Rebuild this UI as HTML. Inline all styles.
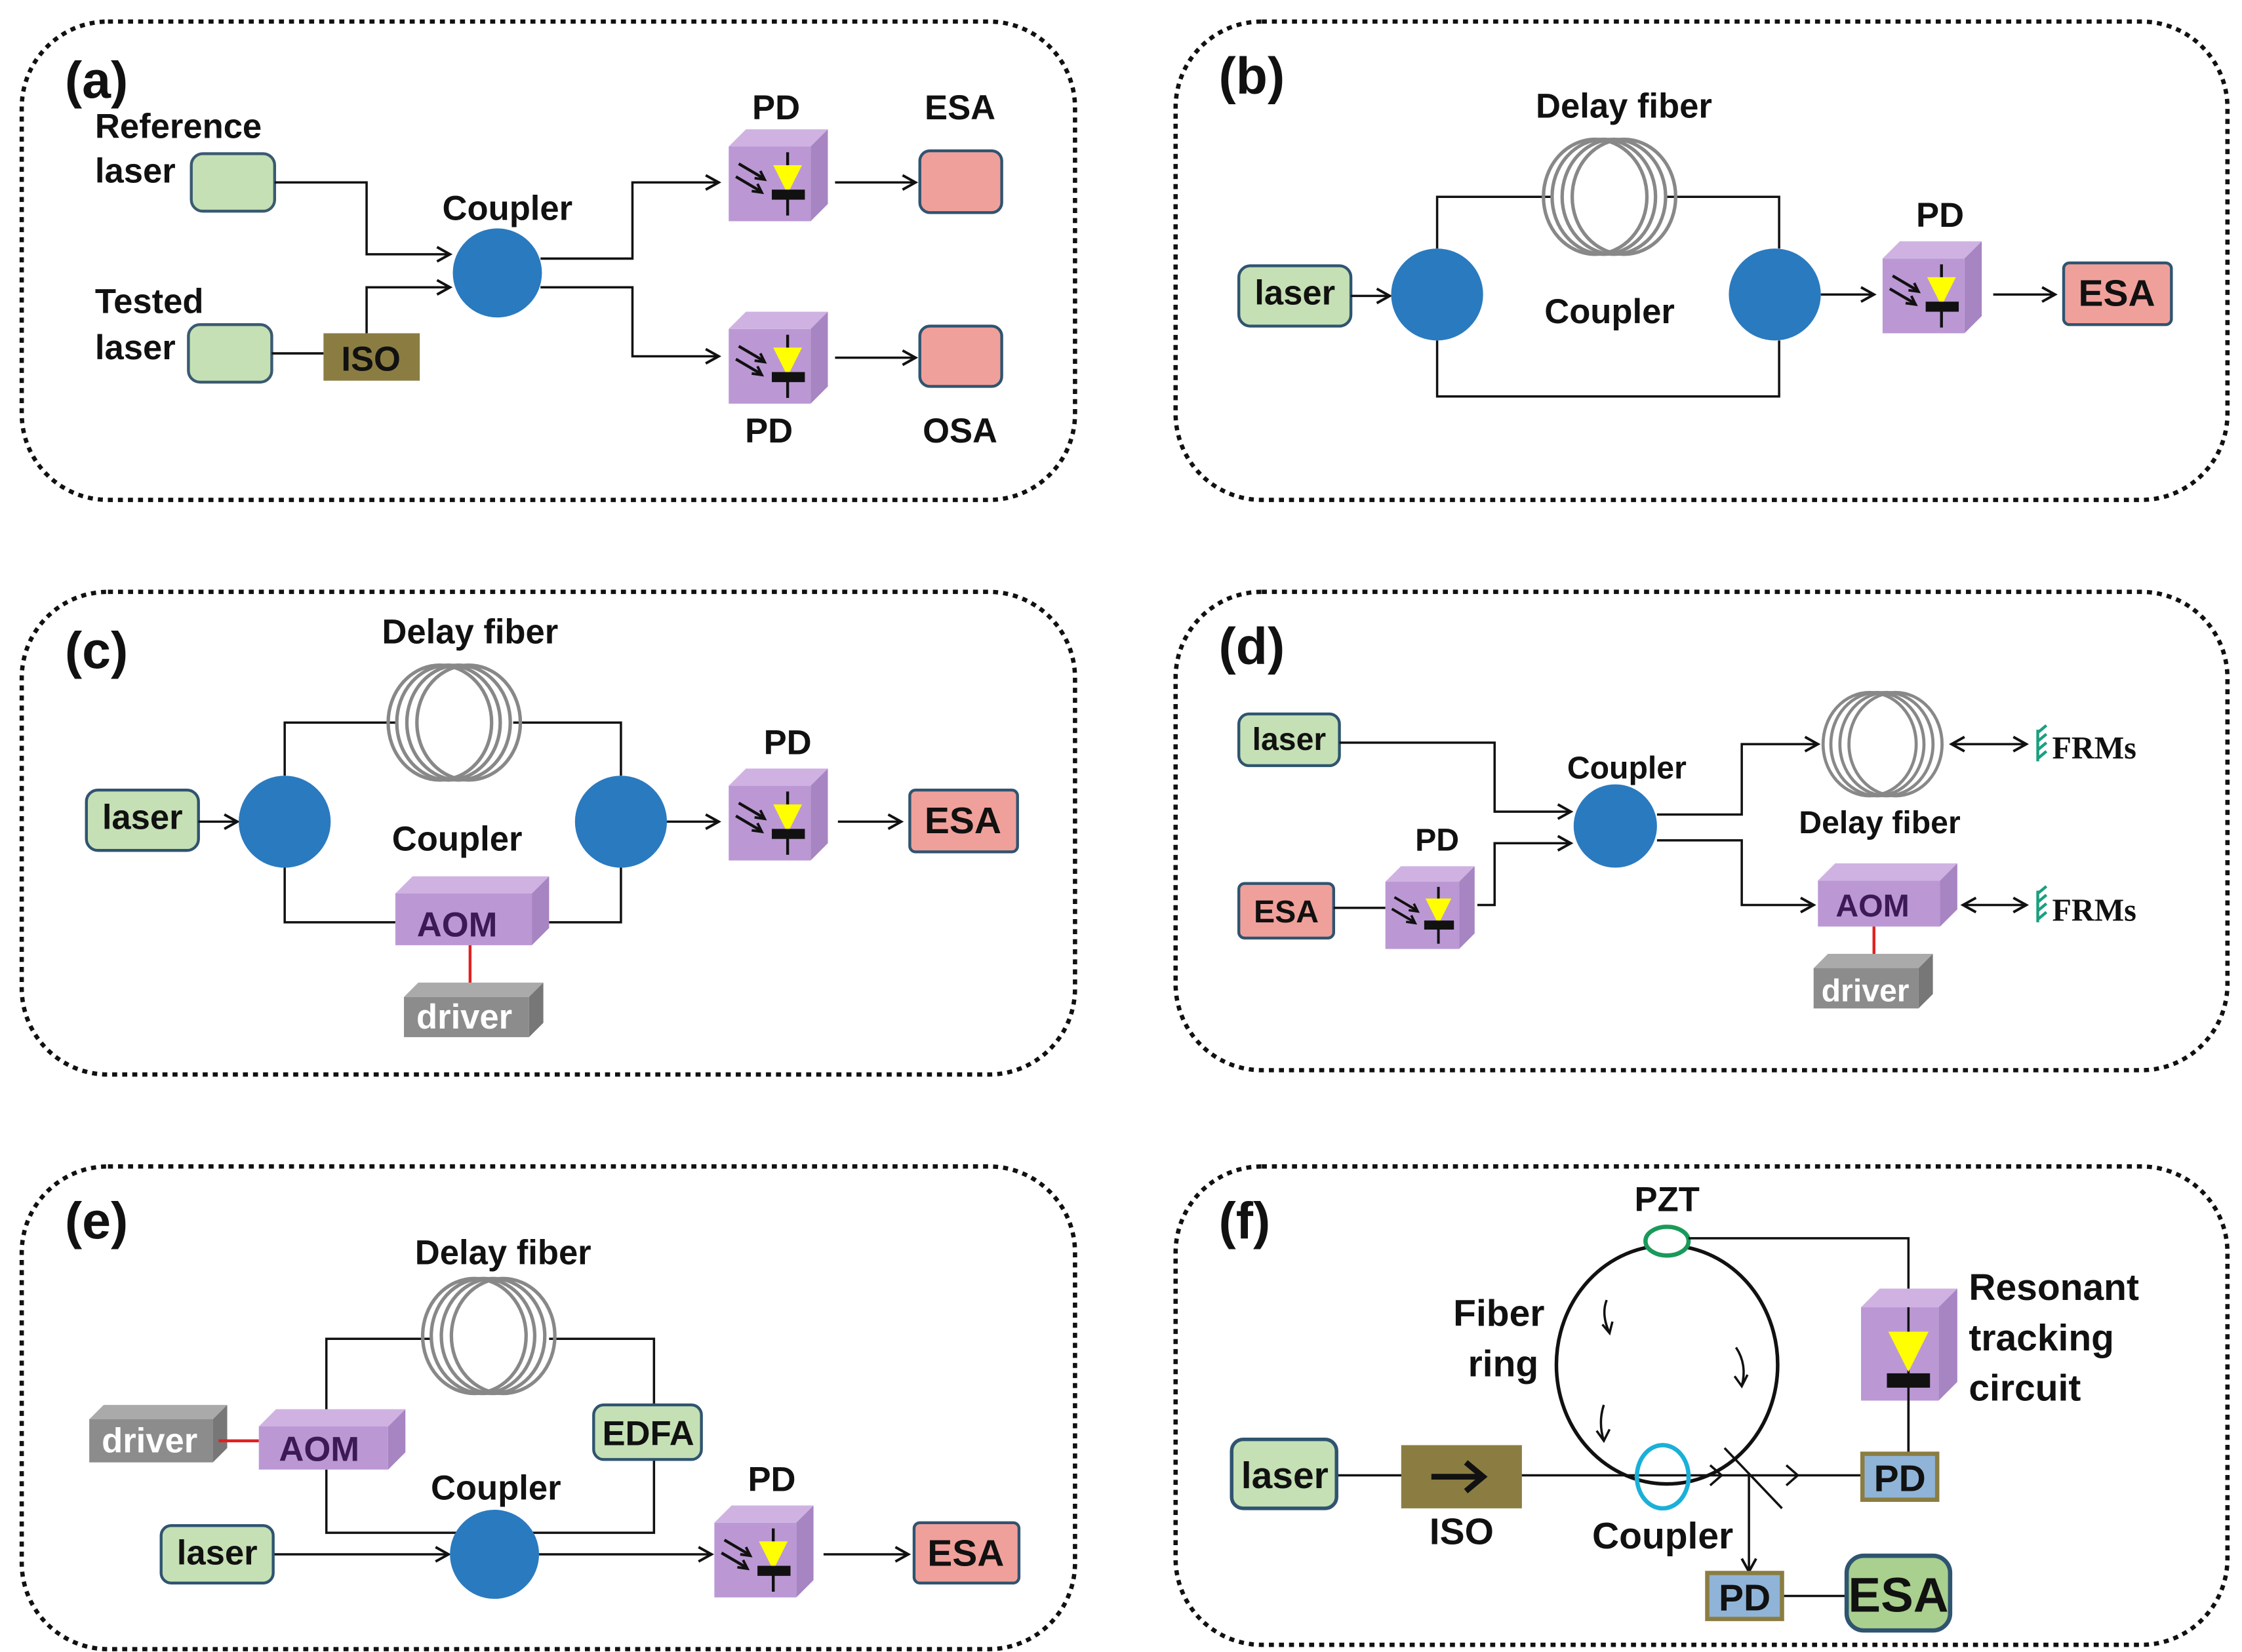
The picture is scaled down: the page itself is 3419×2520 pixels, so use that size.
<!DOCTYPE html>
<html><head><meta charset="utf-8"><style>
html,body{margin:0;padding:0;background:#fff;}
svg{display:block;}
text{font-family:"Liberation Sans",Arial,sans-serif;font-weight:bold;fill:#111;}
</style></head><body>
<svg width="3419" height="2520" viewBox="0 0 1560 1150" xmlns="http://www.w3.org/2000/svg">
<defs>
<marker id="ar" markerWidth="12" markerHeight="12" refX="10" refY="6" orient="auto" markerUnits="userSpaceOnUse">
<path d="M1,1 L10,6 L1,11" fill="none" stroke="#111" stroke-width="1.8"/></marker>
<marker id="ars" markerWidth="12" markerHeight="12" refX="2" refY="6" orient="auto" markerUnits="userSpaceOnUse">
<path d="M11,1 L2,6 L11,11" fill="none" stroke="#111" stroke-width="1.8"/></marker>
<g id="pd">
<polygon points="0,12 12,0 69,0 57,12" fill="#cfb2e2"/>
<polygon points="57,12 69,0 69,52 57,64" fill="#a784c2"/>
<rect x="0" y="12" width="57" height="52" fill="#bb98d4"/>
<line x1="41" y1="16" x2="41" y2="60" stroke="#111" stroke-width="2"/>
<polygon points="31,25 51,25 41,45" fill="#ffff00"/>
<rect x="30" y="42" width="23" height="7" fill="#111"/>
<line x1="7" y1="24" x2="24" y2="34" stroke="#111" stroke-width="2"/>
<path d="M18,34 L25,35 L22,29" fill="none" stroke="#111" stroke-width="1.8"/>
<line x1="5" y1="33" x2="22" y2="43" stroke="#111" stroke-width="2"/>
<path d="M16,43 L23,44 L20,38" fill="none" stroke="#111" stroke-width="1.8"/>
</g>
<g id="coil" fill="none" stroke="#888" stroke-width="2.4">
<ellipse cx="-10" cy="0" rx="36" ry="40"/><ellipse cx="-4" cy="0" rx="36" ry="40"/>
<ellipse cx="3" cy="0" rx="36" ry="40"/><ellipse cx="10" cy="0" rx="36" ry="40"/>
</g>
</defs>

<g fill="none" stroke="#111" stroke-width="3" stroke-dasharray="3.5 3.5">
<rect x="15" y="15" width="733" height="333" rx="60"/>
<rect x="818" y="15" width="732" height="333" rx="60"/>
<rect x="15" y="412" width="733" height="336" rx="60"/>
<rect x="818" y="412" width="732" height="333" rx="60"/>
<rect x="15" y="812" width="733" height="336" rx="60"/>
<rect x="818" y="812" width="732" height="333" rx="60"/>
</g>

<!-- (a) -->
<text x="45" y="68" font-size="36">(a)</text>
<text x="66" y="96" font-size="24">Reference</text>
<text x="66" y="127" font-size="24">laser</text>
<rect x="133" y="107" width="58" height="40" rx="8" fill="#c5e0b4" stroke="#3a5a70" stroke-width="2"/>
<text x="66" y="218" font-size="24">Tested</text>
<text x="66" y="250" font-size="24">laser</text>
<rect x="131" y="226" width="58" height="40" rx="8" fill="#c5e0b4" stroke="#3a5a70" stroke-width="2"/>
<rect x="225" y="232" width="67" height="33" fill="#8b7d42"/>
<text x="258" y="258" font-size="24" text-anchor="middle">ISO</text>
<g fill="none" stroke="#111" stroke-width="1.6">
<polyline points="191,127 255,127 255,177 313,177" marker-end="url(#ar)"/>
<line x1="189" y1="246" x2="225" y2="246"/>
<polyline points="255,232 255,200 313,200" marker-end="url(#ar)"/>
<polyline points="376,180 440,180 440,127 500,127" marker-end="url(#ar)"/>
<polyline points="376,200 440,200 440,248 500,248" marker-end="url(#ar)"/>
<line x1="581" y1="127" x2="637" y2="127" marker-end="url(#ar)"/>
<line x1="581" y1="249" x2="637" y2="249" marker-end="url(#ar)"/>
</g>
<circle cx="346" cy="190" r="31" fill="#2a7abf"/>
<text x="353" y="153" font-size="24" text-anchor="middle">Coupler</text>
<use href="#pd" x="507" y="90"/>
<use href="#pd" x="507" y="217"/>
<text x="540" y="83" font-size="24" text-anchor="middle">PD</text>
<text x="535" y="308" font-size="24" text-anchor="middle">PD</text>
<rect x="640" y="105" width="57" height="43" rx="7" fill="#f0a09a" stroke="#2f5470" stroke-width="2"/>
<rect x="640" y="227" width="57" height="42" rx="7" fill="#f0a09a" stroke="#2f5470" stroke-width="2"/>
<text x="668" y="83" font-size="24" text-anchor="middle">ESA</text>
<text x="668" y="308" font-size="24" text-anchor="middle">OSA</text>

<!-- (b) -->
<text x="848" y="65" font-size="36">(b)</text>
<text x="1130" y="82" font-size="24" text-anchor="middle">Delay fiber</text>
<rect x="862" y="185" width="78" height="42" rx="8" fill="#c5e0b4" stroke="#2f5470" stroke-width="2"/>
<text x="901" y="212" font-size="24" text-anchor="middle">laser</text>
<g fill="none" stroke="#111" stroke-width="1.6">
<line x1="940" y1="206" x2="967" y2="206" marker-end="url(#ar)"/>
<polyline points="1000,173 1000,137 1080,137"/>
<polyline points="1160,137 1238,137 1238,173"/>
<polyline points="1000,237 1000,276 1238,276 1238,237"/>
<line x1="1267" y1="205" x2="1304" y2="205" marker-end="url(#ar)"/>
<line x1="1387" y1="205" x2="1430" y2="205" marker-end="url(#ar)"/>
</g>
<use href="#coil" x="1120" y="137"/>
<circle cx="1000" cy="205" r="32" fill="#2a7abf"/>
<circle cx="1235" cy="205" r="32" fill="#2a7abf"/>
<text x="1120" y="225" font-size="24" text-anchor="middle">Coupler</text>
<use href="#pd" x="1310" y="168"/>
<text x="1350" y="158" font-size="24" text-anchor="middle">PD</text>
<rect x="1436" y="183" width="75" height="43" rx="4" fill="#f0a09a" stroke="#2f5470" stroke-width="2"/>
<text x="1473" y="213" font-size="26" text-anchor="middle">ESA</text>

<!-- (c) -->
<text x="45" y="465" font-size="36">(c)</text>
<text x="327" y="448" font-size="24" text-anchor="middle">Delay fiber</text>
<rect x="60" y="550" width="78" height="42" rx="8" fill="#c5e0b4" stroke="#2f5470" stroke-width="2"/>
<text x="99" y="577" font-size="24" text-anchor="middle">laser</text>
<g fill="none" stroke="#111" stroke-width="1.6">
<line x1="138" y1="572" x2="165" y2="572" marker-end="url(#ar)"/>
<polyline points="198,540 198,503 275,503"/>
<polyline points="357,503 432,503 432,540"/>
<polyline points="198,604 198,642 275,642"/>
<polyline points="382,642 432,642 432,604"/>
<line x1="463" y1="572" x2="500" y2="572" marker-end="url(#ar)"/>
<line x1="583" y1="572" x2="627" y2="572" marker-end="url(#ar)"/>
</g>
<use href="#coil" x="316" y="503"/>
<circle cx="198" cy="572" r="32" fill="#2a7abf"/>
<circle cx="432" cy="572" r="32" fill="#2a7abf"/>
<text x="318" y="592" font-size="24" text-anchor="middle">Coupler</text>
<polygon points="275,622 287,610 382,610 370,622" fill="#cfb2e2"/>
<polygon points="370,622 382,610 382,646 370,658" fill="#a784c2"/>
<rect x="275" y="622" width="95" height="36" fill="#bb98d4"/>
<text x="318" y="652" font-size="24" text-anchor="middle" style="fill:#3c1a55">AOM</text>
<line x1="327" y1="658" x2="327" y2="690" stroke="#e02020" stroke-width="2"/>
<polygon points="281,694 291,684 378,684 368,694" fill="#aaa"/>
<polygon points="368,694 378,684 378,712 368,722" fill="#777"/>
<rect x="281" y="694" width="87" height="28" fill="#8c8c8c"/>
<text x="323" y="716" font-size="24" text-anchor="middle" style="fill:#fff">driver</text>
<use href="#pd" x="507" y="535"/>
<text x="548" y="525" font-size="24" text-anchor="middle">PD</text>
<rect x="633" y="550" width="75" height="43" rx="4" fill="#f0a09a" stroke="#2f5470" stroke-width="2"/>
<text x="670" y="580" font-size="26" text-anchor="middle">ESA</text>

<!-- (d) -->
<text x="848" y="462" font-size="36">(d)</text>
<rect x="862" y="497" width="70" height="36" rx="7" fill="#c5e0b4" stroke="#2f5470" stroke-width="2"/>
<text x="897" y="522" font-size="22" text-anchor="middle">laser</text>
<rect x="862" y="615" width="66" height="38" rx="4" fill="#f0a09a" stroke="#2f5470" stroke-width="2"/>
<text x="895" y="642" font-size="22" text-anchor="middle">ESA</text>
<g fill="none" stroke="#111" stroke-width="1.6">
<polyline points="932,517 1040,517 1040,565 1093,565" marker-end="url(#ar)"/>
<line x1="928" y1="632" x2="964" y2="632"/>
<polyline points="1028,630 1040,630 1040,587 1093,587" marker-end="url(#ar)"/>
<polyline points="1153,567 1212,567 1212,518 1265,518" marker-end="url(#ar)"/>
<polyline points="1153,585 1212,585 1212,630 1262,630" marker-end="url(#ar)"/>
<line x1="1358" y1="518" x2="1410" y2="518" marker-start="url(#ars)" marker-end="url(#ar)"/>
</g>
<g transform="translate(964,603) scale(0.9)"><use href="#pd"/></g>
<text x="1000" y="592" font-size="22" text-anchor="middle">PD</text>
<circle cx="1124" cy="575" r="29" fill="#2a7abf"/>
<text x="1132" y="542" font-size="22" text-anchor="middle">Coupler</text>
<g transform="translate(1310,518) scale(0.9)"><use href="#coil"/></g>
<text x="1308" y="580" font-size="22" text-anchor="middle">Delay fiber</text>
<g stroke="#1aa080" stroke-width="2"><line x1="1418" y1="508" x2="1418" y2="530"/><line x1="1418" y1="510" x2="1424" y2="505"/><line x1="1418" y1="516" x2="1424" y2="511"/><line x1="1418" y1="522" x2="1424" y2="517"/><line x1="1418" y1="528" x2="1424" y2="523"/>
<line x1="1418" y1="620" x2="1418" y2="642"/><line x1="1418" y1="622" x2="1424" y2="617"/><line x1="1418" y1="628" x2="1424" y2="623"/><line x1="1418" y1="634" x2="1424" y2="629"/><line x1="1418" y1="640" x2="1424" y2="635"/></g>
<text x="1428" y="528" font-size="22" style="font-family:'Liberation Serif',serif">FRMs</text>
<text x="1428" y="641" font-size="22" style="font-family:'Liberation Serif',serif">FRMs</text>
<polygon points="1265,613 1277,601 1362,601 1350,613" fill="#cfb2e2"/>
<polygon points="1350,613 1362,601 1362,633 1350,645" fill="#a784c2"/>
<rect x="1265" y="613" width="85" height="32" fill="#bb98d4"/>
<text x="1303" y="638" font-size="22" text-anchor="middle" style="fill:#3c1a55">AOM</text>
<line x1="1366" y1="630" x2="1410" y2="630" stroke="#111" stroke-width="1.6" marker-start="url(#ars)" marker-end="url(#ar)"/>
<line x1="1304" y1="645" x2="1304" y2="672" stroke="#e02020" stroke-width="2"/>
<polygon points="1262,674 1272,664 1345,664 1335,674" fill="#aaa"/>
<polygon points="1335,674 1345,664 1345,692 1335,702" fill="#777"/>
<rect x="1262" y="674" width="73" height="28" fill="#8c8c8c"/>
<text x="1298" y="697" font-size="22" text-anchor="middle" style="fill:#fff">driver</text>

<!-- (e) -->
<text x="45" y="862" font-size="36">(e)</text>
<text x="350" y="880" font-size="24" text-anchor="middle">Delay fiber</text>
<g fill="none" stroke="#111" stroke-width="1.6">
<polyline points="227,990 227,932 300,932"/>
<polyline points="382,932 455,932 455,978"/>
<polyline points="227,1023 227,1067 318,1067"/>
<polyline points="455,1016 455,1067 370,1067"/>
<line x1="190" y1="1082" x2="312" y2="1082" marker-end="url(#ar)"/>
<line x1="375" y1="1082" x2="495" y2="1082" marker-end="url(#ar)"/>
<line x1="573" y1="1082" x2="632" y2="1082" marker-end="url(#ar)"/>
</g>
<use href="#coil" x="340" y="930"/>
<rect x="413" y="978" width="75" height="38" rx="7" fill="#c5e0b4" stroke="#2f5470" stroke-width="2"/>
<text x="451" y="1006" font-size="24" text-anchor="middle">EDFA</text>
<polygon points="62,988 72,978 158,978 148,988" fill="#aaa"/>
<polygon points="148,988 158,978 158,1008 148,1018" fill="#777"/>
<rect x="62" y="988" width="86" height="30" fill="#8c8c8c"/>
<text x="104" y="1011" font-size="24" text-anchor="middle" style="fill:#fff">driver</text>
<line x1="152" y1="1003" x2="180" y2="1003" stroke="#e02020" stroke-width="2"/>
<polygon points="180,993 192,981 282,981 270,993" fill="#cfb2e2"/>
<polygon points="270,993 282,981 282,1011 270,1023" fill="#a784c2"/>
<rect x="180" y="993" width="90" height="30" fill="#bb98d4"/>
<text x="222" y="1017" font-size="24" text-anchor="middle" style="fill:#3c1a55">AOM</text>
<rect x="112" y="1062" width="78" height="40" rx="7" fill="#c5e0b4" stroke="#2f5470" stroke-width="2"/>
<text x="151" y="1089" font-size="24" text-anchor="middle">laser</text>
<circle cx="344" cy="1082" r="31" fill="#2a7abf"/>
<text x="345" y="1044" font-size="24" text-anchor="middle">Coupler</text>
<use href="#pd" x="497" y="1048"/>
<text x="537" y="1038" font-size="24" text-anchor="middle">PD</text>
<rect x="636" y="1060" width="73" height="42" rx="4" fill="#f0a09a" stroke="#2f5470" stroke-width="2"/>
<text x="672" y="1090" font-size="26" text-anchor="middle">ESA</text>

<!-- (f) -->
<text x="848" y="862" font-size="36">(f)</text>
<text x="1160" y="843" font-size="24" text-anchor="middle">PZT</text>
<ellipse cx="1160" cy="950" rx="77" ry="83" fill="none" stroke="#111" stroke-width="2.5"/>
<ellipse cx="1160" cy="864" rx="15" ry="10" fill="#fff" stroke="#1a9a5a" stroke-width="3"/>
<g fill="none" stroke="#111" stroke-width="1.6">
<polyline points="1175,862 1328,862 1328,1012"/>
<path d="M1118,905 Q1114,915 1120,928 M1115,922 L1120,928 L1122,920"/>
<path d="M1208,938 Q1216,950 1212,965 M1207,958 L1212,965 L1216,957"/>
<path d="M1116,978 Q1112,990 1116,1003 M1111,996 L1116,1003 L1120,995"/>
<line x1="930" y1="1027" x2="1296" y2="1027"/>
<path d="M1190,1020 L1198,1027 L1190,1034 M1243,1020 L1251,1027 L1243,1034"/>
<line x1="1200" y1="1008" x2="1240" y2="1050"/>
<line x1="1217" y1="1027" x2="1217" y2="1094" marker-end="url(#ar)"/>
<line x1="1240" y1="1111" x2="1285" y2="1111"/>
</g>
<polygon points="1295,910 1308,897 1362,897 1349,910" fill="#cfb2e2"/>
<polygon points="1349,910 1362,897 1362,962 1349,975" fill="#a784c2"/>
<rect x="1295" y="910" width="54" height="65" fill="#bb98d4"/>
<line x1="1328" y1="910" x2="1328" y2="1012" stroke="#111" stroke-width="1.6"/>
<polygon points="1314,927 1342,927 1328,955" fill="#ffff00"/>
<rect x="1313" y="956" width="30" height="10" fill="#111"/>
<text x="1370" y="905" font-size="26">Resonant</text>
<text x="1370" y="940" font-size="26">tracking</text>
<text x="1370" y="975" font-size="26">circuit</text>
<text x="1043" y="923" font-size="26" text-anchor="middle">Fiber</text>
<text x="1046" y="958" font-size="26" text-anchor="middle">ring</text>
<rect x="857" y="1002" width="73" height="48" rx="8" fill="#c5e0b4" stroke="#2f5470" stroke-width="2.5"/>
<text x="894" y="1036" font-size="26" text-anchor="middle">laser</text>
<rect x="975" y="1006" width="84" height="44" fill="#8b7d42"/>
<path d="M996,1028 L1030,1028 M1020,1018 L1032,1028 L1020,1038" fill="none" stroke="#111" stroke-width="4"/>
<text x="1017" y="1075" font-size="26" text-anchor="middle">ISO</text>
<ellipse cx="1157" cy="1028" rx="18" ry="22" fill="none" stroke="#1ab0d8" stroke-width="3"/>
<text x="1157" y="1078" font-size="26" text-anchor="middle">Coupler</text>
<rect x="1296" y="1012" width="52" height="32" fill="#8fb4d8" stroke="#8b7d42" stroke-width="3"/>
<text x="1322" y="1038" font-size="26" text-anchor="middle">PD</text>
<rect x="1188" y="1095" width="52" height="32" fill="#8fb4d8" stroke="#8b7d42" stroke-width="3"/>
<text x="1214" y="1121" font-size="26" text-anchor="middle">PD</text>
<rect x="1285" y="1083" width="72" height="52" rx="12" fill="#a9d08e" stroke="#2f5470" stroke-width="3"/>
<text x="1321" y="1122" font-size="34" text-anchor="middle">ESA</text>
</svg>
</body></html>
